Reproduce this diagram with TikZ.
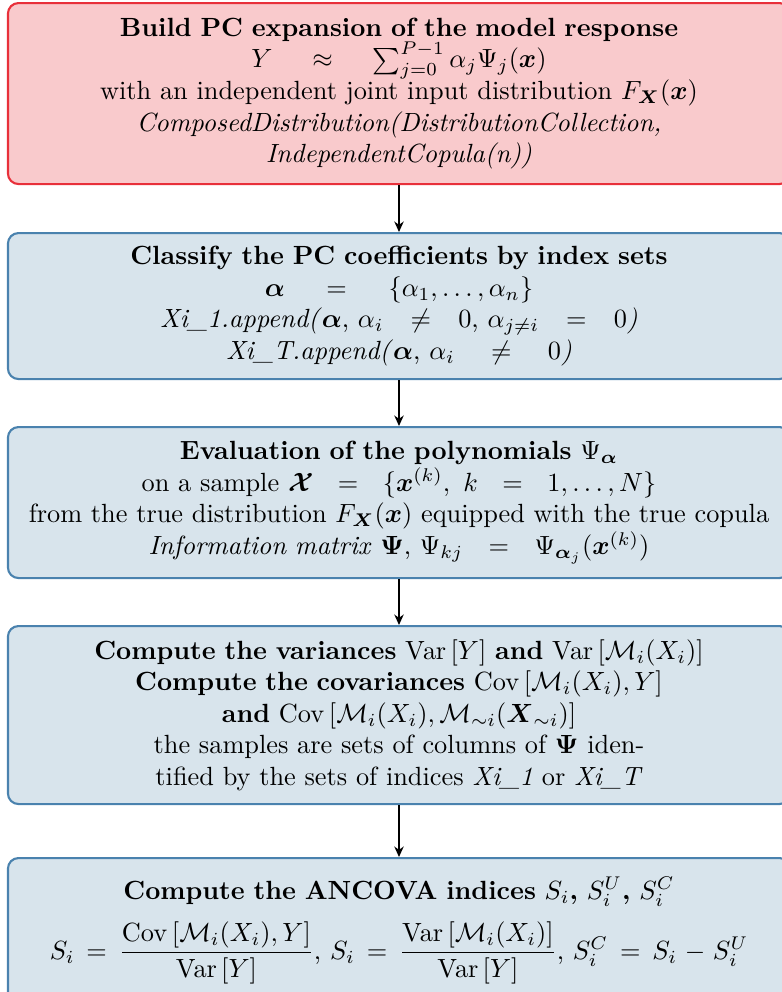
\documentclass[tikz,border=0pt]{standalone}
\usepackage{xcolor}
\usepackage{amsmath}
\usepackage{tikz}
\usetikzlibrary{arrows.meta}

\definecolor{stepred}{HTML}{E8303A}
\definecolor{stepredfill}{HTML}{F9CACC}
\definecolor{stepblue}{HTML}{4A82AE}
\definecolor{stepbluefill}{HTML}{D8E4EC}

\begin{document}
\begin{tikzpicture}[x=0.38pt, y=-0.38pt,
    box/.style={draw, line width=0.8pt, rounded corners=4pt, align=center,
        text width=290pt, minimum width=297.2pt, inner sep=1pt, anchor=north},
    redbox/.style={box, draw=stepred, fill=stepredfill},
    bluebox/.style={box, draw=stepblue, fill=stepbluefill},
    flow/.style={-{Stealth[length=4pt, width=3.6pt]}, line width=0.6pt}]
    \useasboundingbox (0, 0) rectangle (782, 992);
    \clip (0, 0) rectangle (782, 992);

    % PC expansion
    \node[redbox, minimum height=181*0.38pt] (build) at (399, 2) {%
        \textbf{Build PC expansion of the model response}\\
        $Y \approx \sum_{j=0}^{P-1}\alpha_j\Psi_j(\boldsymbol{x})$\\
        with an independent joint input distribution $F_{\boldsymbol{X}}(\boldsymbol{x})$\\
        \textit{ComposedDistribution(DistributionCollection,}\\
        \textit{IndependentCopula(n))}};

    % Index sets
    \node[bluebox, minimum height=146*0.38pt] (classify) at (399, 232) {%
        \textbf{Classify the PC coefficients by index sets}\\
        $\boldsymbol{\alpha} = \{\alpha_1,\ldots,\alpha_n\}$\\
        \textit{Xi\_1.append(}$\boldsymbol{\alpha}$, $\alpha_i \neq 0$, $\alpha_{j\neq i} = 0$\textit{)}\\
        \textit{Xi\_T.append(}$\boldsymbol{\alpha}$, $\alpha_i \neq 0$\textit{)}};

    % Polynomials
    \node[bluebox, minimum height=151*0.38pt] (evaluate) at (399, 426) {%
        \textbf{Evaluation of the polynomials} $\Psi_{\boldsymbol{\alpha}}$\\
        on a sample $\boldsymbol{\mathcal{X}} = \{\boldsymbol{x}^{(k)},\ k = 1,\ldots,N\}$\\
        from the true distribution $F_{\boldsymbol{X}}(\boldsymbol{x})$ equipped with the true copula\\
        \textit{Information matrix} $\boldsymbol{\Psi}$, $\Psi_{kj} = \Psi_{\boldsymbol{\alpha}_j}(\boldsymbol{x}^{(k)})$};

    % Variances and covariances
    \node[bluebox, minimum height=178*0.38pt] (moments) at (399, 625) {%
        \textbf{Compute the variances} $\operatorname{Var}\left[Y\right]$ \textbf{and} $\operatorname{Var}\left[\mathcal{M}_i(X_i)\right]$\\
        \textbf{Compute the covariances} $\operatorname{Cov}\left[\mathcal{M}_i(X_i),Y\right]$\\
        \textbf{and} $\operatorname{Cov}\left[\mathcal{M}_i(X_i),\mathcal{M}_{\sim i}(\boldsymbol{X}_{\sim i})\right]$\\
        the samples are sets of columns of $\boldsymbol{\Psi}$ iden-\\
        tified by the sets of indices \textit{Xi\_1} or \textit{Xi\_T}};

    % ANCOVA indices
    \node[bluebox, minimum height=145*0.38pt] (ancova) at (399, 857) {%
        \textbf{Compute the ANCOVA indices} $S_i$\textbf{,} $S_i^U$\textbf{,} $S_i^C$\\[5pt]
        $S_i = \dfrac{\operatorname{Cov}\left[\mathcal{M}_i(X_i),Y\right]}{\operatorname{Var}\left[Y\right]}$,
        $S_i = \dfrac{\operatorname{Var}\left[\mathcal{M}_i(X_i)\right]}{\operatorname{Var}\left[Y\right]}$,
        $S_i^C = S_i - S_i^U$};

    % Arrows
    \draw[flow] (build) -- (classify);
    \draw[flow] (classify) -- (evaluate);
    \draw[flow] (evaluate) -- (moments);
    \draw[flow] (moments) -- (ancova);
\end{tikzpicture}
\end{document}
